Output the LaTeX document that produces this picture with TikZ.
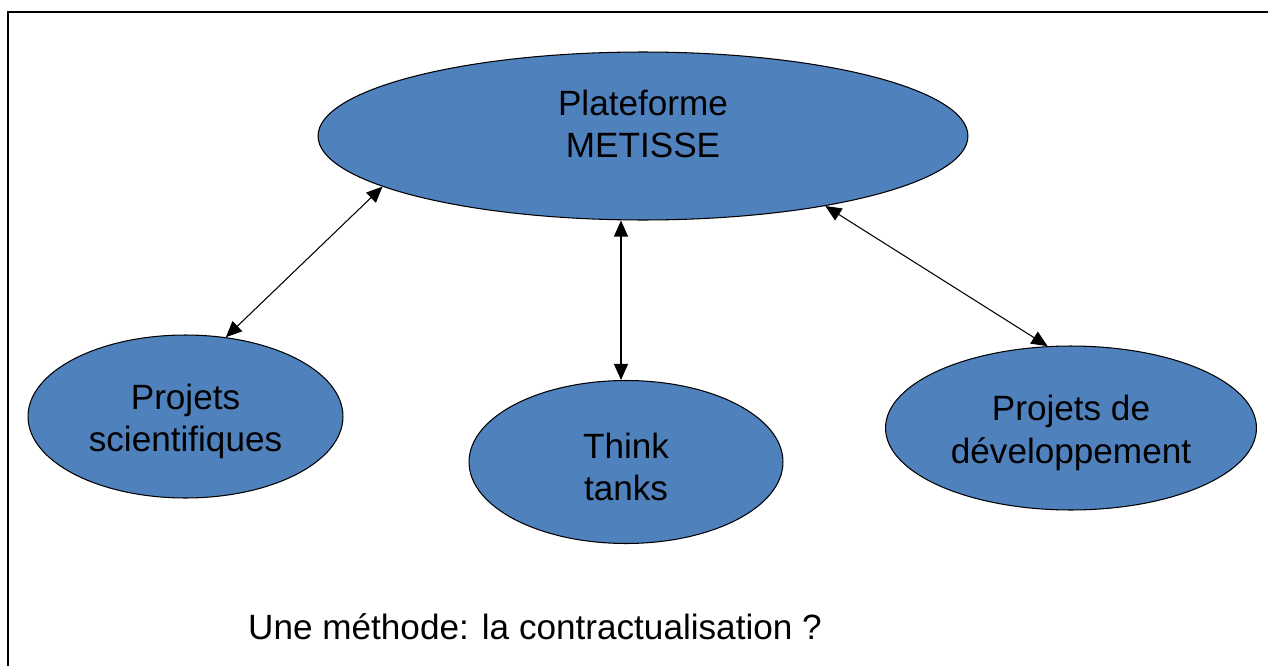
\documentclass[tikz,border=0pt]{standalone}
\usepackage{fontspec}
\setmainfont{Liberation Sans}
\usepackage{tikz}
\usetikzlibrary{shapes.geometric, arrows.meta, positioning}
\definecolor{officeblue}{HTML}{4F81BD}

\begin{document}
\begin{tikzpicture}[x=0.02cm, y=-0.02cm,
    bulle/.style={ellipse, draw=black, line width=0.6pt, fill=officeblue, inner sep=0pt,
                  align=center, font=\fontsize{20}{24}\selectfont},
    petite/.style={bulle, minimum height=3.26cm, text height=1.55cm},
    lien/.style={{Triangle[length=0.32cm,width=0.28cm]}-{Triangle[length=0.32cm,width=0.28cm]}, line width=0.6pt}]
    \useasboundingbox (0,0) rectangle (1268,666);
    \fill[white] (0,0) rectangle (1268,666);
    \draw[line width=1.1pt] (8,666) -- (8,12) -- (1268,12);

    \node[bulle, minimum width=13cm, minimum height=3.36cm, text depth=0.48cm] (plat) at (643,136) {Plateforme\\METISSE};
    \node[petite, minimum width=6.3cm] (sci) at (185.5,416.5) {Projets\\scientifiques};
    \node[petite, minimum width=6.28cm] (think) at (626,462) {Think\\tanks};
    \node[petite, minimum width=7.42cm, minimum height=3.28cm] (dev) at (1071,428) {Projets de\\développement};

    \draw[lien] (plat.191) -- (sci.63);
    \draw[lien] ([xshift=-0.1cm]think.north |- plat.south) -- ([xshift=-0.1cm]think.north);
    \draw[lien] (plat.339) -- (dev.106);

    \node[font=\fontsize{20}{24}\selectfont] (methode) at (535,627) {Une méthode: la contractualisation ?};
\end{tikzpicture}
\end{document}
